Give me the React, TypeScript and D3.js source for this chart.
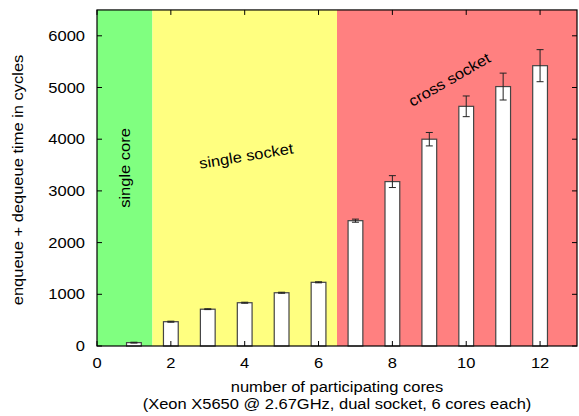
import React from "react";
import * as d3 from "d3";

const cores = [1, 2, 3, 4, 5, 6, 7, 8, 9, 10, 11, 12];
const cycles = [65, 470, 712, 837, 1030, 1232, 2424, 3180, 4000, 4636, 5018, 5422];
const errors = [8, 10, 8, 10, 10, 10, 30, 115, 130, 200, 260, 310];
const xTicks = [0, 2, 4, 6, 8, 10, 12];
const yTicks = [0, 1000, 2000, 3000, 4000, 5000, 6000];
const regions = [
  { from: 0, to: 1.5, color: "#80ff80" },
  { from: 1.5, to: 6.5, color: "#ffff80" },
  { from: 6.5, to: 13, color: "#ff8080" },
];

const W = 579;
const H = 416;
const margin = { top: 11, right: 2, bottom: 70, left: 97 };
const FS = 15;
const STRETCH = 1.1;

// gnuplot's text is a bit wider than Liberation Sans, so stretch it horizontally
function Label({ x, y, rotate = 0, anchor = "middle", children }: any) {
  return (
    <text transform={`translate(${x},${y}) rotate(${rotate}) scale(${STRETCH},1)`} textAnchor={anchor} fontSize={FS} fill="#000">
      {children}
    </text>
  );
}

export default function App() {
  const x = d3.scaleLinear().domain([0, 13]).range([margin.left, W - margin.right]);
  const y = d3.scaleLinear().domain([0, 6500]).range([H - margin.bottom, H - margin.bottom - 6500 * 0.0517]);
  const top = y(6500);
  const bottom = y(0);
  const left = x(0);
  const right = x(13);
  const barW = x(0.4) - x(0);
  const font = "'Liberation Sans', Arial, sans-serif";

  return (
    <div style={{ position: "absolute", left: 0, top: 0 }}>
      <svg width={W} height={H} style={{ display: "block", fontFamily: font }}>
        <rect width={W} height={H} fill="#fff" />
        {regions.map((r, i) => (
          <rect key={i} x={x(r.from)} y={top} width={x(r.to) - x(r.from)} height={bottom - top} fill={r.color} />
        ))}
        {cores.map((c, i) => (
          <rect key={"b" + i} x={x(c) - barW / 2} y={y(cycles[i])} width={barW} height={bottom - y(cycles[i])}
            fill="#fff" stroke="#444" strokeWidth={1.2} />
        ))}
        {cores.map((c, i) => (
          <g key={"e" + i} stroke="#222" strokeWidth={1}>
            <line x1={x(c)} x2={x(c)} y1={y(cycles[i] - errors[i])} y2={y(cycles[i] + errors[i])} />
            <line x1={x(c) - 3.5} x2={x(c) + 3.5} y1={y(cycles[i] - errors[i])} y2={y(cycles[i] - errors[i])} />
            <line x1={x(c) - 3.5} x2={x(c) + 3.5} y1={y(cycles[i] + errors[i])} y2={y(cycles[i] + errors[i])} />
          </g>
        ))}
        {/* ticks, mirrored on all sides */}
        <g stroke="#000" strokeWidth={1}>
          {xTicks.map((t) => (
            <g key={"xt" + t}>
              <line x1={x(t)} x2={x(t)} y1={bottom} y2={bottom - 5} />
              <line x1={x(t)} x2={x(t)} y1={top} y2={top + 5} />
            </g>
          ))}
          {yTicks.map((t) => (
            <g key={"yt" + t}>
              <line x1={left} x2={left + 5} y1={y(t)} y2={y(t)} />
              <line x1={right} x2={right - 5} y1={y(t)} y2={y(t)} />
            </g>
          ))}
        </g>
        <rect x={left} y={top} width={right - left} height={bottom - top} fill="none" stroke="#000" strokeWidth={1.2} />
        {xTicks.map((t) => (
          <Label key={"xl" + t} x={x(t)} y={bottom + 22}>{t}</Label>
        ))}
        {yTicks.map((t) => (
          <Label key={"yl" + t} x={left - 12} y={y(t) + 5} anchor="end">{t}</Label>
        ))}
        <Label x={23} y={(top + bottom) / 2 + 2} rotate={-90}>enqueue + dequeue time in cycles</Label>
        <Label x={337} y={392}>number of participating cores</Label>
        <Label x={337} y={409}>(Xeon X5650 @ 2.67GHz, dual socket, 6 cores each)</Label>
        <Label x={130} y={168} rotate={-90}>single core</Label>
        <Label x={247} y={161} rotate={-9.5}>single socket</Label>
        <Label x={452} y={84} rotate={-30}>cross socket</Label>
      </svg>
    </div>
  );
}
